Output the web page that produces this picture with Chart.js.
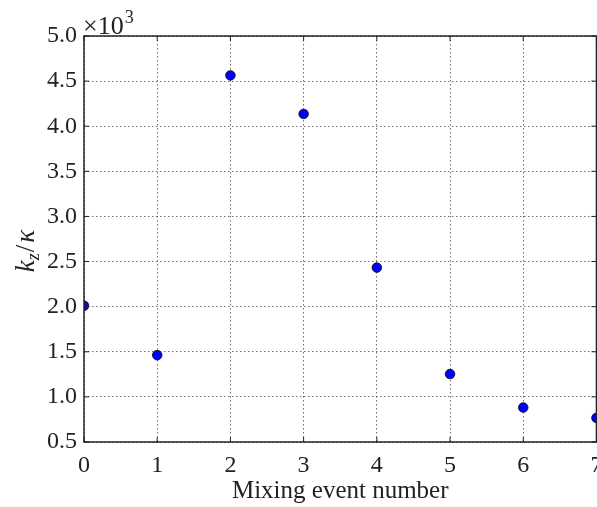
<!DOCTYPE html>
<html>
<head>
<meta charset="utf-8">
<script src="https://cdn.jsdelivr.net/npm/chart.js@4/dist/chart.umd.min.js"></script>
<style>
  html, body { margin: 0; padding: 0; background: #fff; overflow: hidden; }
  /* a touch wider than the window so the last x label is cut like the original */
  #wrap { width: 602px; height: 507px; }
</style>
</head>
<body>
<div id="wrap"><canvas id="chart"></canvas></div>
<script>
const events = [0, 1, 2, 3, 4, 5, 6, 7];
const ratio = [2010, 1463, 4563, 4136, 2433, 1253, 882, 767];
const yTicks = [500, 1000, 1500, 2000, 2500, 3000, 3500, 4000, 4500, 5000];
const xTicks = [0, 1, 2, 3, 4, 5, 6, 7];

const serif = "'Liberation Serif', 'DejaVu Serif', serif";

// frame, inward ticks, offset text and y label
const decor = {
  id: "decor",
  afterDraw(chart) {
    const { ctx, chartArea: a, scales } = chart;
    ctx.save();
    ctx.strokeStyle = "#222";
    ctx.lineWidth = 1.5;
    ctx.strokeRect(a.left, a.top, a.right - a.left, a.bottom - a.top);

    ctx.lineWidth = 1;
    const len = 5;
    ctx.beginPath();
    xTicks.forEach((v) => {
      const x = scales.x.getPixelForValue(v);
      ctx.moveTo(x, a.bottom); ctx.lineTo(x, a.bottom - len);
      ctx.moveTo(x, a.top); ctx.lineTo(x, a.top + len);
    });
    yTicks.forEach((v) => {
      const y = scales.y.getPixelForValue(v);
      ctx.moveTo(a.left, y); ctx.lineTo(a.left + len, y);
      ctx.moveTo(a.right, y); ctx.lineTo(a.right - len, y);
    });
    ctx.stroke();

    // ×10^3
    ctx.fillStyle = "#222";
    ctx.textBaseline = "alphabetic";
    ctx.textAlign = "left";
    ctx.font = "26px " + serif;
    ctx.fillText("×10", a.left - 1, a.top - 2);
    const w = ctx.measureText("×10").width;
    ctx.font = "18px " + serif;
    ctx.fillText("3", a.left + w, a.top - 13);

    // y label k_z / κ
    ctx.translate(34, 251);
    ctx.rotate(-Math.PI / 2);
    ctx.font = "italic 27px " + serif;
    const k = ctx.measureText("k").width;
    ctx.font = "italic 18px " + serif;
    const z = ctx.measureText("z").width;
    ctx.font = "27px " + serif;
    const sl = ctx.measureText("/").width;
    ctx.font = "italic 27px " + serif;
    const kap = ctx.measureText("κ").width;
    let x = -(k + z + sl + kap + 3) / 2;
    ctx.fillText("k", x, 0); x += k;
    ctx.font = "italic 18px " + serif;
    ctx.fillText("z", x, 5); x += z + 1;
    ctx.font = "27px " + serif;
    ctx.fillText("/", x, 0); x += sl + 2;
    ctx.font = "italic 27px " + serif;
    ctx.fillText("κ", x, 0);
    ctx.restore();
  },
};

new Chart(document.getElementById("chart"), {
  type: "scatter",
  data: {
    datasets: [
      {
        data: events.map((e, i) => ({ x: e, y: ratio[i] })),
        backgroundColor: "#0000ff",
        borderColor: "#000",
        borderWidth: 0.75,
        pointRadius: 4.8,
        pointHoverRadius: 4.8,
        clip: 0,
      },
    ],
  },
  options: {
    responsive: true,
    maintainAspectRatio: false,
    animation: false,
    layout: { padding: { top: 36, right: 1, left: 0, bottom: 0 } },
    plugins: { legend: { display: false }, tooltip: { enabled: false } },
    scales: {
      x: {
        type: "linear",
        min: 0,
        max: 7,
        afterBuildTicks: (s) => { s.ticks = xTicks.map((v) => ({ value: v })); },
        afterFit: (s) => {
          s.height = 65;
          s.paddingLeft = 0;
          s.paddingRight = 0;
        },
        grid: {
          color: "rgba(0,0,0,0.55)",
          lineWidth: 1,
          drawTicks: false,
        },
        border: { display: false, dash: [1.5, 2.5] },
        ticks: {
          color: "#222",
          font: { family: serif, size: 24 },
          padding: 9,
          maxRotation: 0,
        },
        title: {
          display: true,
          text: "Mixing event number",
          color: "#222",
          font: { family: serif, size: 25 },
          padding: { top: 0, bottom: 1 },
        },
      },
      y: {
        min: 500,
        max: 5000,
        afterBuildTicks: (s) => { s.ticks = yTicks.map((v) => ({ value: v })); },
        afterFit: (s) => {
          s.width = 84;
          s.paddingTop = 0;
          s.paddingBottom = 0;
        },
        grid: {
          color: "rgba(0,0,0,0.55)",
          lineWidth: 1,
          drawTicks: false,
        },
        border: { display: false, dash: [1.5, 2.5] },
        ticks: {
          color: "#222",
          font: { family: serif, size: 24 },
          padding: 7,
          callback: (v) => (v / 1000).toFixed(1),
        },
      },
    },
  },
  plugins: [decor],
});
</script>
</body>
</html>
